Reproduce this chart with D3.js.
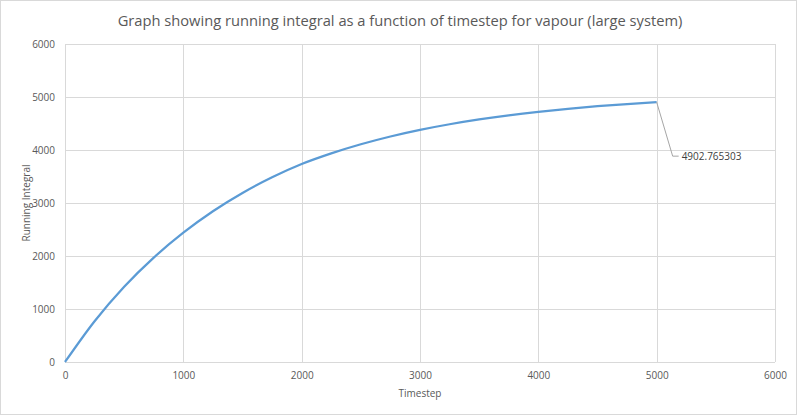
<!DOCTYPE html>
<html>
<head>
<meta charset="utf-8">
<script src="https://cdn.jsdelivr.net/npm/d3@7"></script>
<style>
  body { margin: 0; background: #fff; }
  text { font-family: "Open Sans", "Liberation Sans", sans-serif; }
</style>
</head>
<body>
<div id="chart"></div>
<script>
// values
const timesteps = [0, 250, 500, 750, 1000, 1250, 1500, 1750, 2000, 2250, 2500, 2750, 3000, 3250, 3500, 3750, 4000, 4250, 4500, 4750, 5000];
const integral = [0, 770, 1420, 1970, 2440, 2845, 3190, 3485, 3735, 3936, 4108, 4255, 4380, 4486, 4577, 4654, 4720, 4777, 4826, 4867, 4902.765303];
const xTicks = [0, 1000, 2000, 3000, 4000, 5000, 6000];
const yTicks = [0, 1000, 2000, 3000, 4000, 5000, 6000];
const lastLabel = "4902.765303";

const W = 800, H = 417;
const margin = { top: 44, right: 25, bottom: 55, left: 65 };

const svg = d3.select('#chart')
    .append('svg')
    .attr('width', W)
    .attr('height', H);

// chart area border
svg.append('rect')
    .attr('x', 0.5).attr('y', 0.5)
    .attr('width', 796).attr('height', 414)
    .attr('fill', '#fff')
    .attr('stroke', '#d9d9d9');

const xScale = d3.scaleLinear().domain([0, 6000]).range([margin.left, W - margin.right]);
const yScale = d3.scaleLinear().domain([0, 6000]).range([H - margin.bottom, margin.top]);

// grid lines
const grid = svg.append('g').attr('id', 'grid');
grid.selectAll('.hgrid')
    .data(yTicks)
    .enter()
    .append('line')
    .attr('x1', xScale(0)).attr('x2', xScale(6000))
    .attr('y1', d => Math.round(yScale(d)) + 0.5)
    .attr('y2', d => Math.round(yScale(d)) + 0.5)
    .attr('stroke', '#d9d9d9');
grid.selectAll('.vgrid')
    .data(xTicks)
    .enter()
    .append('line')
    .attr('y1', yScale(0)).attr('y2', yScale(6000))
    .attr('x1', d => Math.round(xScale(d)) + 0.5)
    .attr('x2', d => Math.round(xScale(d)) + 0.5)
    .attr('stroke', '#d9d9d9');

// axes (labels only, Excel style)
const xAxis = d3.axisBottom(xScale).tickValues(xTicks).tickSize(0).tickPadding(10).tickFormat(d3.format('d'));
const yAxis = d3.axisLeft(yScale).tickValues(yTicks).tickSize(0).tickPadding(10).tickFormat(d3.format('d'));

const xAxisGroup = svg.append('g')
    .attr('transform', `translate(0, ${yScale(0)})`)
    .call(xAxis);
const yAxisGroup = svg.append('g')
    .attr('transform', `translate(${xScale(0)}, 0)`)
    .call(yAxis);

[xAxisGroup, yAxisGroup].forEach(g => {
    g.select('.domain').remove();
    g.selectAll('text')
        .style('font-size', '10px')
        .style('fill', '#595959')
        .style('font-family', '"Open Sans", sans-serif');
});

// the running integral line
const line = d3.line()
    .x((d, i) => xScale(timesteps[i]))
    .y(d => yScale(d))
    .curve(d3.curveMonotoneX);

svg.append('path')
    .datum(integral)
    .attr('fill', 'none')
    .attr('stroke', '#5b9bd5')
    .attr('stroke-width', 2.25)
    .attr('stroke-linejoin', 'round')
    .attr('d', line);

// data label with leader line
const lastX = xScale(timesteps[timesteps.length - 1]);
const lastY = yScale(integral[integral.length - 1]);
svg.append('polyline')
    .attr('points', `${lastX},${lastY} ${lastX + 16},${lastY + 54} ${lastX + 22},${lastY + 54}`)
    .attr('fill', 'none')
    .attr('stroke', '#a6a6a6')
    .attr('stroke-width', 1);
svg.append('text')
    .attr('x', lastX + 25)
    .attr('y', lastY + 58)
    .style('font-size', '10px')
    .style('fill', '#404040')
    .text(lastLabel);

// title
svg.append('text')
    .attr('x', 400)
    .attr('y', 26)
    .attr('text-anchor', 'middle')
    .style('font-size', '14.7px')
    .style('fill', '#595959')
    .text('Graph showing running integral as a function of timestep for vapour (large system)');

// axis titles
svg.append('text')
    .attr('x', (xScale(0) + xScale(6000)) / 2)
    .attr('y', 397)
    .attr('text-anchor', 'middle')
    .style('font-size', '10px')
    .style('fill', '#595959')
    .text('Timestep');

svg.append('text')
    .attr('transform', `translate(30, ${(yScale(0) + yScale(6000)) / 2}) rotate(-90)`)
    .attr('text-anchor', 'middle')
    .style('font-size', '10px')
    .style('fill', '#595959')
    .text('Running Integral');
</script>
</body>
</html>
